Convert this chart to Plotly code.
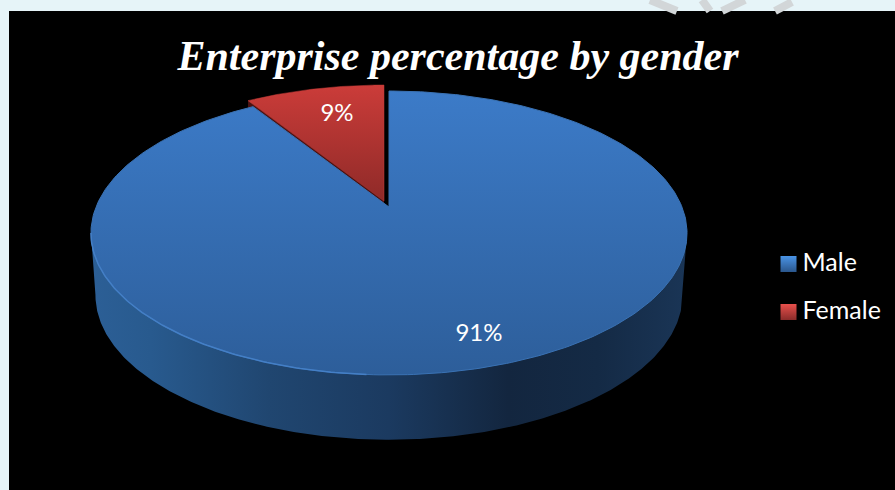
import numpy as np
import plotly.graph_objects as go

categories = ["Male", "Female"]
values = [91, 9]
title_text = "Enterprise percentage by gender"

# canvas in pixels
W, H = 895, 490
PLOT_L, PLOT_T = 9, 11

# perspective disc: apex (x0, y0), horizontal b, vertical a, perspective k
x0, y0 = 389.0, 207.0
a, b, k = 137.2, 293.0, 0.183
DEPTH_CY_TOP, DEPTH_CY_BOT = 233.0, 295.0
FEMALE_SHIFT = (-5.0, -6.0)


def disc(theta):
    """Clockwise angle from 12 o'clock -> pixel position on the top face."""
    X, Y = np.sin(theta), np.cos(theta)
    w = 1 + k * Y
    return x0 + b * X / w, y0 - a * Y / w


def lower(x, y):
    """Top-face position -> position on the bottom rim."""
    return x0 + 0.985 * (x - x0), DEPTH_CY_BOT + 1.02 * (y - DEPTH_CY_TOP)


fractions = np.array(values, dtype=float) / sum(values)
male_sweep = 2 * np.pi * fractions[0]

# male top face
t_m = np.linspace(0, male_sweep, 360)
mx, my = disc(t_m)
male_x = np.r_[x0, mx, x0]
male_y = np.r_[y0, my, y0]

# wall under the male slice (silhouette from left extreme to right extreme)
t_all = np.linspace(0, 2 * np.pi, 721)
ax, ay = disc(t_all)
i_r, i_l = int(np.argmax(ax)), int(np.argmin(ax))
t_front = t_all[i_r:i_l + 1]
fx, fy = disc(t_front)
bx, by = lower(fx, fy)
wall_x = np.r_[ax[i_r], bx, ax[i_l], ax[i_r]]
wall_y = np.r_[ay[i_r], by, ay[i_l], ay[i_r]]

# lit rim along the front-left of the top face
t_rim = np.linspace(np.pi * 1.02, t_all[i_l], 120)
rx, ry = disc(t_rim)

# female slice: pulled out along its mid-line
t_f = np.linspace(male_sweep, 2 * np.pi, 60)
ffx, ffy = disc(t_f)
fem_x = np.r_[x0, ffx, x0] + FEMALE_SHIFT[0]
fem_y = np.r_[y0, ffy, y0] + FEMALE_SHIFT[1]

# female side strip, visible below its left radial edge
tip_x, tip_y = fem_x[1], fem_y[1]
ap_x, ap_y = fem_x[0], fem_y[0]
strip_x = [tip_x, ap_x, ap_x, tip_x, tip_x]
strip_y = [tip_y, ap_y, ap_y + 12, tip_y + 12, tip_y]

fig = go.Figure()

# side wall
fig.add_trace(go.Scatter(
    x=wall_x, y=wall_y, mode="lines", fill="toself", showlegend=False, hoverinfo="skip",
    line=dict(width=0, color="rgba(0,0,0,0)"),
    fillgradient=dict(type="horizontal", colorscale=[
        [0.0, "#2c5f96"], [0.1, "#285a8e"], [0.3, "#204670"], [0.5, "#1b3a60"],
        [0.7, "#13263f"], [0.85, "#142a45"], [1.0, "#1a3556"]]),
))
# female side
fig.add_trace(go.Scatter(
    x=strip_x, y=strip_y, mode="lines", fill="toself", showlegend=False, hoverinfo="skip",
    line=dict(width=0, color="#4a1212"), fillcolor="#4a1212",
))
# female top
fig.add_trace(go.Scatter(
    x=fem_x, y=fem_y, mode="lines", fill="toself", showlegend=False, hoverinfo="skip",
    line=dict(width=0.5, color="#c53c38"),
    fillgradient=dict(type="vertical", colorscale=[
        [0.0, "#8f2a28"], [1.0, "#cb3c39"]]),
))
# male top
fig.add_trace(go.Scatter(
    x=male_x, y=male_y, mode="lines", fill="toself", showlegend=False, hoverinfo="skip",
    line=dict(width=1, color="#3a72b4"),
    fillgradient=dict(type="vertical", colorscale=[
        [0.0, "#2d5e9a"], [1.0, "#3c7bc8"]]),
))
# rim highlight
fig.add_trace(go.Scatter(
    x=rx, y=ry, mode="lines", showlegend=False, hoverinfo="skip",
    line=dict(width=1.5, color="#447fc6"),
))

# data labels
fig.add_trace(go.Scatter(
    x=[479, 337], y=[335, 115], mode="text",
    text=[f"{v}%" for v in values], showlegend=False, hoverinfo="skip",
    textfont=dict(family="Lato", size=24, color="#ffffff"),
))

# legend entries
legend_x = [788.5, 788.5]
legend_y = [264, 312]
swatches = [("#4a94e6", "#2a568c"), ("#e8504c", "#8a2c2a")]
for name, lx, ly, (c1, c2) in zip(categories, legend_x, legend_y, swatches):
    fig.add_trace(go.Scatter(
        x=[lx], y=[ly], mode="markers", name=name, showlegend=False,
        marker=dict(symbol="square", size=16, color=c1, line=dict(width=0),
                    gradient=dict(type="vertical", color=c2)),
        hoverinfo="skip",
    ))
    fig.add_trace(go.Scatter(
        x=[lx + 14], y=[ly + 1], mode="text", showlegend=False,
        text=[name], textposition="middle right",
        textfont=dict(family="Lato", size=25, color="#ffffff"),
        hoverinfo="skip",
    ))

# faint watermark strokes in the top margin
watermark = [(650, 0, 677, 11), (702, 0, 710, 11), (745, 0, 722, 11), (792, 2, 775, 11)]
shapes = [dict(type="line", xref="x", yref="paper",
               x0=p, x1=r, y0=1 - q / H, y1=1 - s / H, layer="above",
               line=dict(color="#d2d6d8", width=8)) for p, q, r, s in watermark]

fig.update_layout(
    width=W, height=H, autosize=False,
    margin=dict(l=0, r=0, t=0, b=0),
    paper_bgcolor="#e6f4f8", plot_bgcolor="#000000",
    title=dict(text=f"<b><i>{title_text}</i></b>", x=458 / W, xanchor="center",
               y=1 - 55 / H, yanchor="middle",
               font=dict(family="Liberation Serif", size=42, color="#ffffff")),
    xaxis=dict(range=[PLOT_L, W], domain=[PLOT_L / W, 1], visible=False, fixedrange=True),
    yaxis=dict(range=[H, PLOT_T], domain=[0, 1 - PLOT_T / H], visible=False, fixedrange=True),
    showlegend=False,
    shapes=shapes,
)

fig.write_html("out.html", config={"displayModeBar": False},
               post_script="document.body.style.margin='0';document.body.style.overflow='hidden';")
